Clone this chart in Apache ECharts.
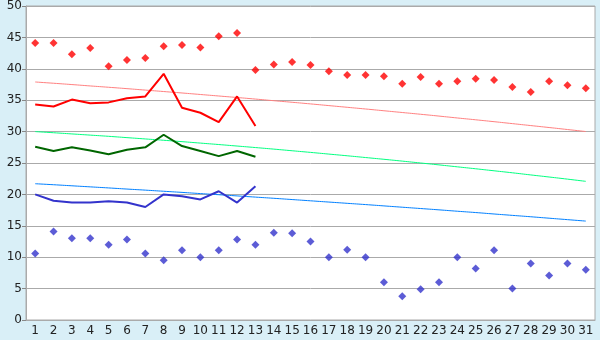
<!DOCTYPE html>
<html><head><meta charset="utf-8">
<script src="https://cdn.jsdelivr.net/npm/echarts@6/dist/echarts.min.js"></script>
<style>html,body{margin:0;padding:0;background:#d9eff7}#c{width:600px;height:340px}</style>
</head><body><div id="c"></div>
<script>
const days = ["1","2","3","4","5","6","7","8","9","10","11","12","13","14","15","16","17","18","19","20","21","22","23","24","25","26","27","28","29","30","31"];
const recordMax = [44.1,44.1,42.3,43.3,40.4,41.4,41.7,43.6,43.8,43.4,45.2,45.7,39.8,40.7,41.1,40.6,39.6,39.0,39.0,38.8,37.6,38.7,37.6,38.0,38.4,38.2,37.1,36.3,38.0,37.4,36.9];
const recordMin = [10.6,14.1,13.0,13.0,12.0,12.8,10.6,9.5,11.1,10.0,11.1,12.8,12.0,13.9,13.8,12.5,10.0,11.2,10.0,6.0,3.8,4.9,6.0,10.0,8.2,11.1,5.0,9.0,7.1,9.0,8.0];
const curMax = [34.3,34.0,35.1,34.5,34.65,35.3,35.6,39.2,33.8,33.0,31.5,35.6,30.9];
const curMean = [27.6,26.9,27.5,27.0,26.4,27.1,27.5,29.5,27.7,26.9,26.1,26.9,26.0];
const curMin = [20.0,19.0,18.7,18.7,18.9,18.7,18.0,20.0,19.7,19.2,20.5,18.7,21.3];
const normMax = [37.90,37.70,37.49,37.27,37.06,36.84,36.61,36.38,36.15,35.91,35.67,35.43,35.18,34.92,34.67,34.41,34.14,33.87,33.60,33.32,33.04,32.76,32.47,32.17,31.88,31.58,31.27,30.96,30.65,30.33,30.01];
const normMean = [30.00,29.82,29.63,29.44,29.25,29.04,28.83,28.62,28.40,28.17,27.94,27.70,27.46,27.21,26.95,26.69,26.42,26.15,25.87,25.59,25.30,25.00,24.70,24.39,24.08,23.76,23.44,23.10,22.77,22.43,22.08];
const normMin = [21.70,21.54,21.37,21.20,21.03,20.85,20.68,20.50,20.32,20.13,19.95,19.76,19.57,19.38,19.18,18.98,18.78,18.58,18.38,18.17,17.96,17.75,17.54,17.32,17.11,16.88,16.66,16.44,16.21,15.98,15.75];
const yTicks = {min:0, max:50, step:5};

const chart = echarts.init(document.getElementById('c'), null, {renderer:'canvas'});
const font = {fontFamily:'DejaVu Sans', fontSize:12, color:'#222'};
function line(data, color, w, smooth, z){
  return {type:'line', data, smooth, symbol:'none', z, lineStyle:{color, width:w}, itemStyle:{color}, animation:false};
}
function dots(data, color){
  return {type:'scatter', data, symbol:'diamond', symbolSize:8, itemStyle:{color}, z:5, animation:false};
}
chart.setOption({
  backgroundColor:'#d9eff7',
  animation:false,
  grid:{left:26, right:5, top:5, bottom:20, show:true, backgroundColor:'#ffffff', borderColor:'#aaaaaa', borderWidth:1},
  xAxis:{type:'category', data:days, boundaryGap:true,
    axisLine:{lineStyle:{color:'#aaaaaa'}},
    axisTick:{alignWithLabel:true, length:4, lineStyle:{color:'#888'}},
    axisLabel:Object.assign({margin:5, interval:0}, font),
    splitLine:{show:false}},
  yAxis:{type:'value', min:yTicks.min, max:yTicks.max, interval:yTicks.step,
    axisLine:{show:true, lineStyle:{color:'#aaaaaa'}},
    axisTick:{show:true, length:4, lineStyle:{color:'#888'}},
    axisLabel:Object.assign({margin:4}, font),
    splitLine:{lineStyle:{color:'#aaaaaa', width:1}}},
  series:[
    line(normMax, '#ff8080', 1, true, 2),
    line(normMean, '#00ff80', 1, true, 2),
    line(normMin, '#0080ff', 1, true, 2),
    line(curMax, '#ff0000', 2, false, 3),
    line(curMean, '#006600', 2, false, 3),
    line(curMin, '#3333cc', 2, false, 3),
    dots(recordMax, '#ff0000'),
    dots(recordMin, '#3333cc')
  ]
});
</script></body></html>
